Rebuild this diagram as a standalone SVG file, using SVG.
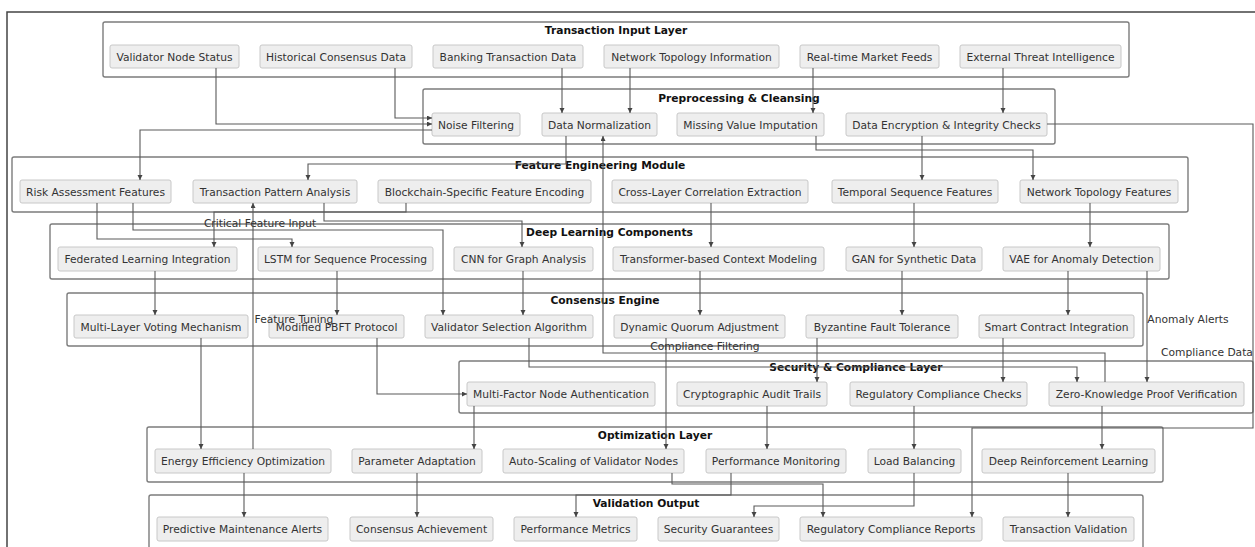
<svg xmlns="http://www.w3.org/2000/svg" width="1255" height="547" viewBox="0 0 1255 547">
<defs>
<marker id="arr" markerWidth="6" markerHeight="6" refX="5" refY="2.5" orient="auto" markerUnits="userSpaceOnUse"><path d="M0,0 L5,2.5 L0,5 z" fill="#444"/></marker>
<style>
text{font-family:"DejaVu Sans","Liberation Sans",sans-serif;font-size:10.7px;fill:#333;text-anchor:middle}
.frame{fill:none;stroke:#444;stroke-width:1.5}
.layer rect{fill:none;stroke:#7c7c7c;stroke-width:1.4}
.layer text{font-weight:bold;fill:#111}
.node rect{fill:#eeeeee;stroke:#c8c8c8;stroke-width:1}
#connectors path{fill:none;stroke:#5a5a5a;stroke-width:1.1;marker-end:url(#arr)}
#connectors path.na{marker-end:none}
</style>
</defs>
<rect x="0" y="0" width="1255" height="547" fill="#ffffff"/>
<rect class="frame" x="7" y="12" width="1270" height="560"/>

<g id="layer-input" class="layer"><rect x="103" y="22" width="1026" height="55" rx="2"/><text x="616" y="34">Transaction Input Layer</text></g>
<g id="layer-pre" class="layer"><rect x="423" y="89" width="632" height="55" rx="2"/><text x="739" y="101.5">Preprocessing &amp; Cleansing</text></g>
<g id="layer-feat" class="layer"><rect x="12" y="157" width="1176" height="55" rx="2"/><text x="600" y="169">Feature Engineering Module</text></g>
<g id="layer-dl" class="layer"><rect x="50" y="224" width="1119" height="55" rx="2"/><text x="609.5" y="236">Deep Learning Components</text></g>
<g id="layer-cons" class="layer"><rect x="67" y="293" width="1076" height="53" rx="2"/><text x="605" y="304">Consensus Engine</text></g>
<g id="layer-sec" class="layer"><rect x="459" y="361" width="794" height="52" rx="2"/><text x="856" y="371">Security &amp; Compliance Layer</text></g>
<g id="layer-opt" class="layer"><rect x="147" y="427" width="1016" height="55" rx="2"/><text x="655" y="438.5">Optimization Layer</text></g>
<g id="layer-val" class="layer"><rect x="149" y="495" width="994" height="70" rx="2"/><text x="646" y="506.5">Validation Output</text></g>

<g id="n_vns" class="node"><rect x="110" y="45" width="129" height="23" rx="2"/><text x="174.5" y="60.5">Validator Node Status</text></g>
<g id="n_hcd" class="node"><rect x="260" y="45" width="152" height="23" rx="2"/><text x="336" y="60.5">Historical Consensus Data</text></g>
<g id="n_btd" class="node"><rect x="433" y="45" width="150" height="23" rx="2"/><text x="508" y="60.5">Banking Transaction Data</text></g>
<g id="n_nti" class="node"><rect x="604" y="45" width="175" height="23" rx="2"/><text x="691.5" y="60.5">Network Topology Information</text></g>
<g id="n_rmf" class="node"><rect x="800" y="45" width="139" height="23" rx="2"/><text x="869.5" y="60.5">Real-time Market Feeds</text></g>
<g id="n_eti" class="node"><rect x="960" y="45" width="161" height="23" rx="2"/><text x="1040.5" y="60.5">External Threat Intelligence</text></g>

<g id="n_nf" class="node"><rect x="432" y="113" width="88" height="23" rx="2"/><text x="476" y="128.5">Noise Filtering</text></g>
<g id="n_dn" class="node"><rect x="542" y="113" width="115" height="23" rx="2"/><text x="599.5" y="128.5">Data Normalization</text></g>
<g id="n_mvi" class="node"><rect x="677" y="113" width="147" height="23" rx="2"/><text x="750.5" y="128.5">Missing Value Imputation</text></g>
<g id="n_dei" class="node"><rect x="846" y="113" width="201" height="23" rx="2"/><text x="946.5" y="128.5">Data Encryption &amp; Integrity Checks</text></g>

<g id="n_raf" class="node"><rect x="20" y="180" width="151" height="23" rx="2"/><text x="95.5" y="195.5">Risk Assessment Features</text></g>
<g id="n_tpa" class="node"><rect x="193" y="180" width="164" height="23" rx="2"/><text x="275" y="195.5">Transaction Pattern Analysis</text></g>
<g id="n_bsf" class="node"><rect x="378" y="180" width="213" height="23" rx="2"/><text x="484.5" y="195.5">Blockchain-Specific Feature Encoding</text></g>
<g id="n_clc" class="node"><rect x="612" y="180" width="196" height="23" rx="2"/><text x="710" y="195.5">Cross-Layer Correlation Extraction</text></g>
<g id="n_tsf" class="node"><rect x="832" y="180" width="166" height="23" rx="2"/><text x="915" y="195.5">Temporal Sequence Features</text></g>
<g id="n_ntf" class="node"><rect x="1020" y="180" width="158" height="23" rx="2"/><text x="1099" y="195.5">Network Topology Features</text></g>

<g id="n_fli" class="node"><rect x="58" y="247" width="179" height="24" rx="2"/><text x="147.5" y="263">Federated Learning Integration</text></g>
<g id="n_lstm" class="node"><rect x="258" y="247" width="175" height="24" rx="2"/><text x="345.5" y="263">LSTM for Sequence Processing</text></g>
<g id="n_cnn" class="node"><rect x="454" y="247" width="139" height="24" rx="2"/><text x="523.5" y="263">CNN for Graph Analysis</text></g>
<g id="n_trans" class="node"><rect x="613" y="247" width="211" height="24" rx="2"/><text x="718.5" y="263">Transformer-based Context Modeling</text></g>
<g id="n_gan" class="node"><rect x="846" y="247" width="136" height="24" rx="2"/><text x="914" y="263">GAN for Synthetic Data</text></g>
<g id="n_vae" class="node"><rect x="1003" y="247" width="157" height="24" rx="2"/><text x="1081.5" y="263">VAE for Anomaly Detection</text></g>

<g id="n_mlv" class="node"><rect x="74" y="315" width="174" height="23" rx="2"/><text x="161" y="330.5">Multi-Layer Voting Mechanism</text></g>
<g id="n_pbft" class="node"><rect x="269" y="315" width="135" height="23" rx="2"/><text x="336.5" y="330.5">Modified PBFT Protocol</text></g>
<g id="n_vsa" class="node"><rect x="425" y="315" width="168" height="23" rx="2"/><text x="509" y="330.5">Validator Selection Algorithm</text></g>
<g id="n_dqa" class="node"><rect x="614" y="315" width="171" height="23" rx="2"/><text x="699.5" y="330.5">Dynamic Quorum Adjustment</text></g>
<g id="n_bft" class="node"><rect x="806" y="315" width="152" height="23" rx="2"/><text x="882" y="330.5">Byzantine Fault Tolerance</text></g>
<g id="n_sci" class="node"><rect x="979" y="315" width="155" height="23" rx="2"/><text x="1056.5" y="330.5">Smart Contract Integration</text></g>

<g id="n_mfa" class="node"><rect x="467" y="382" width="188" height="24" rx="2"/><text x="561" y="398">Multi-Factor Node Authentication</text></g>
<g id="n_cat" class="node"><rect x="677" y="382" width="150" height="24" rx="2"/><text x="752" y="398">Cryptographic Audit Trails</text></g>
<g id="n_rcc" class="node"><rect x="850" y="382" width="177" height="24" rx="2"/><text x="938.5" y="398">Regulatory Compliance Checks</text></g>
<g id="n_zkp" class="node"><rect x="1049" y="382" width="195" height="24" rx="2"/><text x="1146.5" y="398">Zero-Knowledge Proof Verification</text></g>

<g id="n_eeo" class="node"><rect x="155" y="449" width="176" height="24" rx="2"/><text x="243" y="465">Energy Efficiency Optimization</text></g>
<g id="n_pa" class="node"><rect x="352" y="449" width="130" height="24" rx="2"/><text x="417" y="465">Parameter Adaptation</text></g>
<g id="n_asv" class="node"><rect x="503" y="449" width="181" height="24" rx="2"/><text x="593.5" y="465">Auto-Scaling of Validator Nodes</text></g>
<g id="n_pm" class="node"><rect x="706" y="449" width="140" height="24" rx="2"/><text x="776" y="465">Performance Monitoring</text></g>
<g id="n_lb" class="node"><rect x="868" y="449" width="93" height="24" rx="2"/><text x="914.5" y="465">Load Balancing</text></g>
<g id="n_drl" class="node"><rect x="982" y="449" width="173" height="24" rx="2"/><text x="1068.5" y="465">Deep Reinforcement Learning</text></g>

<g id="n_pma" class="node"><rect x="157" y="517" width="171" height="24" rx="2"/><text x="242.5" y="533">Predictive Maintenance Alerts</text></g>
<g id="n_ca" class="node"><rect x="350" y="517" width="143" height="24" rx="2"/><text x="421.5" y="533">Consensus Achievement</text></g>
<g id="n_pmet" class="node"><rect x="514" y="517" width="123" height="24" rx="2"/><text x="575.5" y="533">Performance Metrics</text></g>
<g id="n_sg" class="node"><rect x="658" y="517" width="121" height="24" rx="2"/><text x="718.5" y="533">Security Guarantees</text></g>
<g id="n_rcr" class="node"><rect x="800" y="517" width="182" height="24" rx="2"/><text x="891" y="533">Regulatory Compliance Reports</text></g>
<g id="n_tv" class="node"><rect x="1003" y="517" width="131" height="24" rx="2"/><text x="1068.5" y="533">Transaction Validation</text></g>

<g id="connectors">
<path d="M216 68 V124 H432"/>
<path d="M395 68 V118 H432"/>
<path d="M562 68 V113"/>
<path d="M630 68 V113"/>
<path d="M813 68 V113"/>
<path d="M1003 68 V113"/>
<path d="M432 130 H140 V180"/>
<path d="M566 136 V164 H308 V180"/>
<path d="M816 136 V150 H1033 V180"/>
<path d="M922 136 V180"/>
<path d="M1047 124 H1253 V428 H972 V517"/>
<path d="M97 203 V239 H292 V247"/>
<path d="M133 203 V230 H443 V315"/>
<path d="M324 203 V221 H522 V247"/>
<path d="M406 203 V212 H214 V247"/>
<path d="M253 449 V203"/>
<path d="M711 203 V247"/>
<path d="M914 203 V247"/>
<path d="M1090 203 V247"/>
<path d="M155 271 V315"/>
<path d="M337 271 V315"/>
<path d="M523 271 V315"/>
<path d="M700 271 V315"/>
<path d="M902 271 V315"/>
<path d="M1068 271 V315"/>
<path d="M1147 271 V382"/>
<path d="M201 338 V449"/>
<path d="M377 338 V394 H467"/>
<path d="M529 338 V367 H1077 V382"/>
<path d="M666 338 V449"/>
<path d="M817 338 V382"/>
<path d="M1003 338 V382"/>
<path d="M1105 382 V353 H603 V136"/>
<path d="M474 406 V449"/>
<path d="M767 406 V449"/>
<path d="M914 406 V449"/>
<path d="M1102 406 V449"/>
<path d="M244 473 V517"/>
<path d="M417 473 V517"/>
<path d="M672 473 V484 H823 V517"/>
<path d="M731 473 V495 H576 V517"/>
<path d="M914 473 V506 H754 V517"/>
<path d="M1068 473 V517"/>
<text x="1207" y="356">Compliance Data</text>
<text x="260" y="227">Critical Feature Input</text>
<text x="294" y="323">Feature Tuning</text>
<text x="1188" y="323">Anomaly Alerts</text>
<text x="705" y="350">Compliance Filtering</text>
</g>
</svg>
